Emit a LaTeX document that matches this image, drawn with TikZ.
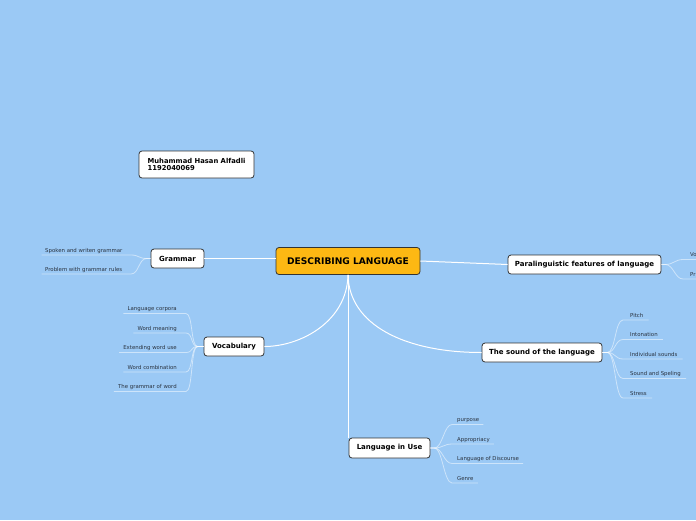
\documentclass[tikz,border=0pt]{standalone}
\usepackage{fontspec}
\setmainfont{DejaVu Sans}
\usetikzlibrary{calc}
\definecolor{bg}{HTML}{9BC9F5}
\definecolor{central}{HTML}{FDB813}
\definecolor{edge}{HTML}{333333}
\definecolor{leaftext}{HTML}{2A3340}
\begin{document}
\begin{tikzpicture}[x=1pt,y=-1pt,
  topic/.style={draw=edge, line width=0.8pt, rounded corners=3pt, fill=white,
    font=\fontsize{7}{8}\selectfont\bfseries, inner sep=0pt, minimum height=19pt},
  leaf/.style={font=\fontsize{5.4}{6}\selectfont, inner sep=0pt, text=leaftext},
  mainline/.style={white, line width=1pt},
  subline/.style={white, opacity=0.5, line width=0.8pt}]
\fill[bg] (0,0) rectangle (696,520);
\useasboundingbox (0,0) rectangle (696,520);

% topics
\node[topic, fill=central, minimum width=144pt, minimum height=27pt,
  font=\fontsize{9.1}{10}\selectfont\bfseries] (c) at (348,261) {DESCRIBING LANGUAGE};
\node[topic, minimum width=115pt, minimum height=27pt, align=left,
  font=\fontsize{6.8}{7.5}\selectfont\bfseries] (m) at (196.5,164.5) {Muhammad Hasan Alfadli\\1192040069};
\node[topic, minimum width=53pt] (g) at (177.5,258.5) {Grammar};
\node[topic, minimum width=60pt] (v) at (234,346.5) {Vocabulary};
\node[topic, minimum width=81pt, minimum height=20pt] (u) at (389.5,448) {Language in Use};
\node[topic, minimum width=120pt] (s) at (542,352.5) {The sound of the language};
\node[topic, minimum width=153pt] (p) at (584.5,264.5) {Paralinguistic features of language};

% main connectors
\draw[mainline] (g.east) -- (g.east -| c.west);
\draw[mainline] (c.east) -- (p.west);
\draw[mainline] (c.south) -- (c.south |- u.north);
\draw[mainline] (c.south) .. controls (347,322) and (300,346.5) .. (v.east);
\draw[mainline] (c.south) .. controls (349,325) and (405,352.5) .. (s.west);

% grammar leaves
\foreach \t/\y [count=\i] in {Spoken and writen grammar/255, Problem with grammar rules/274} {
  \node[leaf, anchor=base west] (g\i) at (45,\y-3) {\t};
  \draw[subline] (g.west) -- ++(-4,0) .. controls +(-8,0) and +(8,0) .. (131,\y)
    -- ($(g\i.base west)+(-3.5,3)$);
}

% vocabulary leaves
\foreach \t/\y [count=\i] in {Language corpora/313.5, Word meaning/333, Extending word use/352.5, Word combination/372, The grammar of word/391.5} {
  \node[leaf, anchor=base east] (v\i) at (177,\y-3) {\t};
  \draw[subline] (v.west) -- ++(-6,0) .. controls +(-7,0) and +(7,0) .. (186,\y)
    -- ($(v\i.base west)+(-4,3)$);
}

% language in use leaves
\foreach \t/\y [count=\i] in {purpose/424.5, Appropriacy/444, Language of Discourse/463.5, Genre/483} {
  \node[leaf, anchor=base west] (u\i) at (457,\y-3) {\t};
  \draw[subline] (u.east) -- ++(4,0) .. controls +(8,0) and +(-8,0) .. (452,\y)
    -- ($(u\i.base east)+(4,3)$);
}

% sound leaves
\foreach \t/\y [count=\i] in {Pitch/320, Intonation/339.5, Individual sounds/359, Sound and Speling/378.5, Stress/398} {
  \node[leaf, anchor=base west] (s\i) at (630,\y-3) {\t};
  \draw[subline] (s.east) -- ++(5,0) .. controls +(8,0) and +(-8,0) .. (623,\y)
    -- ($(s\i.base east)+(5,3)$);
}

% paralinguistic leaves (cut by the picture edge)
\foreach \t/\y [count=\i] in {Vo/259.5, Pr/279} {
  \node[leaf, anchor=base west] (p\i) at (690,\y-3) {\t};
  \draw[subline] (p.east) -- ++(4,0) .. controls +(8,0) and +(-8,0) .. (683,\y)
    -- (696,\y);
}
\end{tikzpicture}
\end{document}
